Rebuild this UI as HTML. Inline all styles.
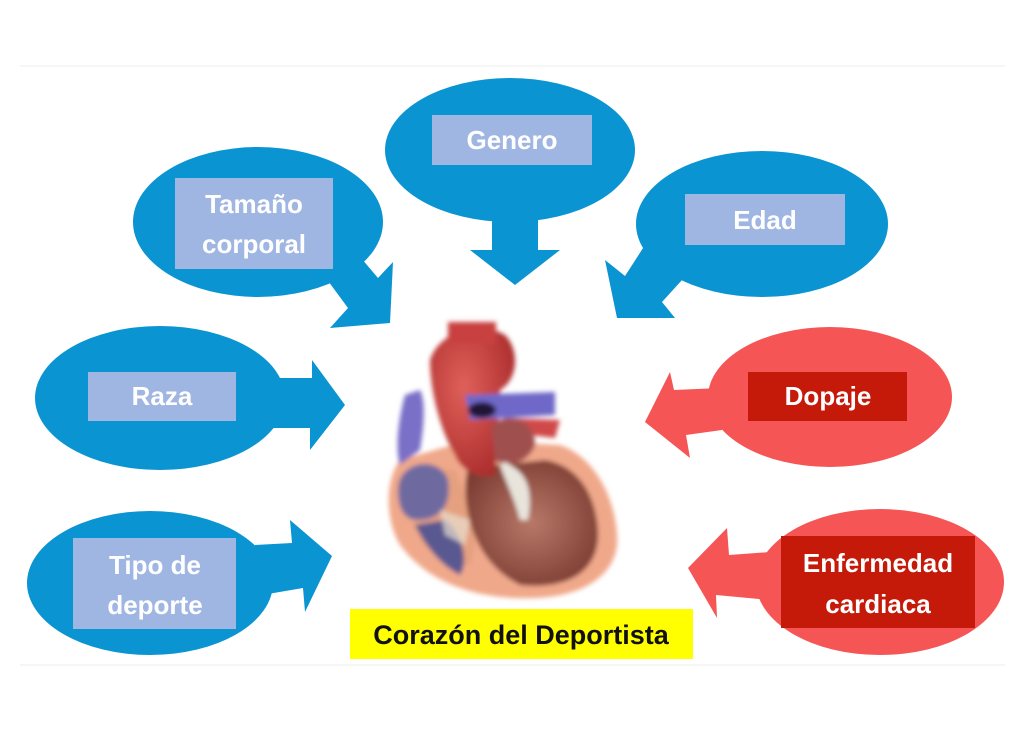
<!DOCTYPE html>
<html><head><meta charset="utf-8"><style>
html,body{margin:0;padding:0;background:#fff;}
svg{display:block;}
text{font-family:"Liberation Sans",sans-serif;font-weight:bold;}
</style></head><body>
<svg width="1024" height="733" viewBox="0 0 1024 733" xmlns="http://www.w3.org/2000/svg">
<defs>
<filter id="bl" x="-10%" y="-10%" width="120%" height="120%"><feGaussianBlur stdDeviation="2.5"/></filter>
<radialGradient id="ao" cx="0.4" cy="0.4" r="0.7"><stop offset="0" stop-color="#e0605a"/><stop offset="1" stop-color="#a82a2a"/></radialGradient>
<radialGradient id="ch" cx="0.5" cy="0.5" r="0.6"><stop offset="0" stop-color="#b87868"/><stop offset="1" stop-color="#7a3a30"/></radialGradient>
</defs>
<rect width="1024" height="733" fill="#fff"/>
<line x1="20" y1="66" x2="1005" y2="66" stroke="#eeeeee" stroke-width="1"/>
<line x1="20" y1="665" x2="1005" y2="665" stroke="#eeeeee" stroke-width="1"/>

<g fill="#0a94d2">
<ellipse cx="510" cy="150" rx="125" ry="72"/>
<polygon points="492,215 538,215 538,250 560,250 515,285 470,250 492,250"/>
<ellipse cx="258" cy="222" rx="125" ry="75"/>
<polygon points="320,270 350,245 378,278 393,262 390,323 330,328 348,308"/>
<ellipse cx="762" cy="224" rx="126" ry="73"/>
<polygon points="645,245 682,280 662,302 675,318 617,318 605,260 625,276"/>
<ellipse cx="160" cy="398" rx="125" ry="72"/>
<polygon points="270,378 312,378 312,360 345,405 310,450 310,428 270,428"/>
<ellipse cx="150" cy="583" rx="123" ry="72"/>
<polygon points="255,545 292,543 290,520 332,556 305,612 303,588 262,595"/>
</g>

<g fill="#f65556">
<ellipse cx="830" cy="397" rx="122" ry="70"/>
<polygon points="720,388 674,390 670,372 645,422 690,458 686,435 722,430"/>
<ellipse cx="880" cy="582" rx="124" ry="73"/>
<polygon points="770,552 729,555 727,528 688,568 717,618 716,595 770,600"/>
</g>

<g fill="#a0b6e2">
<rect x="432" y="115" width="160" height="50"/>
<rect x="175" y="178" width="158" height="91"/>
<rect x="685" y="194" width="160" height="51"/>
<rect x="88" y="372" width="148" height="49"/>
<rect x="73" y="538" width="163" height="91"/>
</g>
<g fill="#c51a0a">
<rect x="748" y="372" width="159" height="49"/>
<rect x="781" y="536" width="194" height="92"/>
</g>

<g fill="#fff" font-size="26" text-anchor="middle">
<text x="512" y="149">Genero</text>
<text x="254" y="213">Tamaño</text>
<text x="254" y="253">corporal</text>
<text x="765" y="229">Edad</text>
<text x="162" y="405">Raza</text>
<text x="155" y="574">Tipo de</text>
<text x="155" y="614">deporte</text>
<text x="828" y="405">Dopaje</text>
<text x="878" y="572">Enfermedad</text>
<text x="878" y="613">cardiaca</text>
</g>

<g filter="url(#bl)">
<path d="M400,460 C385,480 385,520 400,545 C430,585 480,600 535,598 C590,596 620,570 617,535 C614,490 590,455 560,445 L470,440 Z" fill="#f0a88a"/>
<path d="M420,470 C405,490 410,530 425,545 C440,560 455,565 470,565 C480,540 470,500 455,470 Z" fill="#e5a080"/>
<path d="M468,468 C460,500 470,560 520,585 C570,590 600,570 598,530 C595,490 575,465 545,460 Z" fill="url(#ch)"/>
<path d="M398,490 C398,460 440,455 448,480 C452,505 440,520 418,520 C402,520 398,505 398,490 Z" fill="#6e6aa0"/>
<path d="M415,525 C425,545 440,565 460,575 C470,560 460,530 445,520 Z" fill="#5a5890"/>
<path d="M405,395 C398,420 395,450 400,465 L420,450 C425,420 425,400 420,390 Z" fill="#7a70c8"/>
<path d="M430,360 C440,330 480,320 505,335 C520,350 518,380 500,390 L495,475 C480,480 460,470 455,455 C440,430 430,390 430,360 Z" fill="url(#ao)"/>
<rect x="448" y="322" width="48" height="22" fill="#c94040"/>
<path d="M465,395 L555,392 L555,415 L470,420 Z" fill="#7068c8"/>
<ellipse cx="482" cy="410" rx="14" ry="8" fill="#201838"/>
<path d="M505,418 L560,420 L555,438 L505,432 Z" fill="#d04848"/>
<path d="M492,425 C510,410 535,420 535,445 C530,460 510,470 495,460 Z" fill="#a05050"/>
<path d="M505,462 C520,470 535,480 528,520 L520,520 C515,500 505,480 500,465 Z" fill="#e8e4dc"/>
<path d="M440,510 L470,520 L465,545 L445,535 Z" fill="#e8e0d0" opacity="0.7"/>
</g>

<rect x="350" y="609" width="343" height="50" fill="#ffff00"/>
<text x="521" y="644" font-size="27" fill="#111" text-anchor="middle">Corazón del Deportista</text>
</svg>
</body></html>
